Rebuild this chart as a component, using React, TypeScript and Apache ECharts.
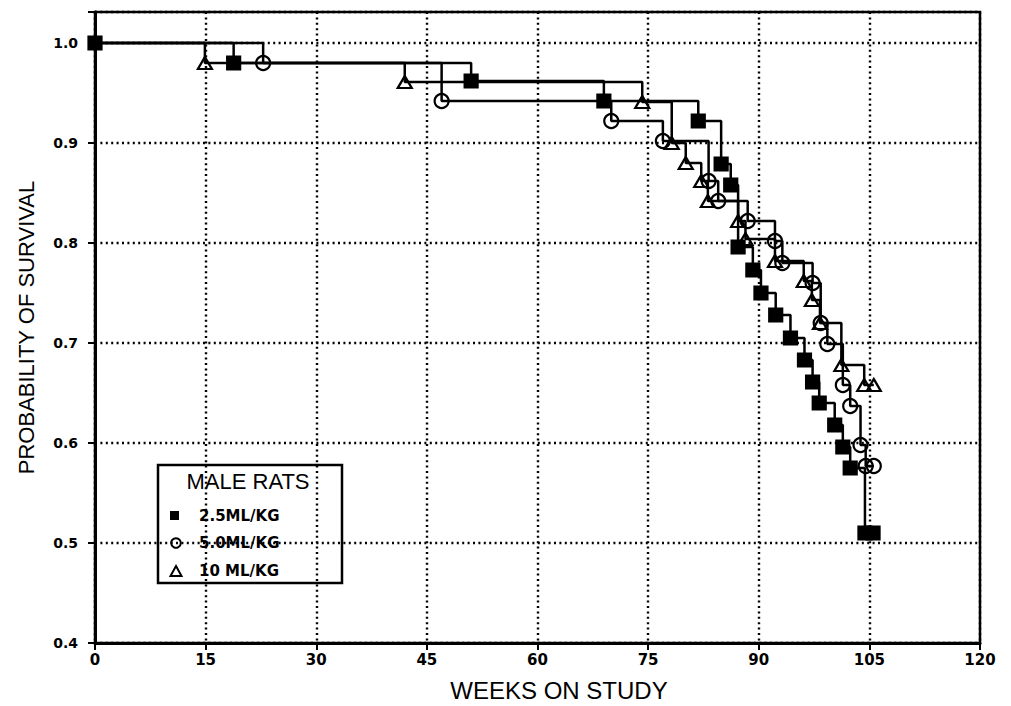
import React, { useEffect, useRef } from "react";
import * as echarts from "echarts";

// ---- data ----
const xTicks = [0, 15, 30, 45, 60, 75, 90, 105, 120];
const yTicks = [0.4, 0.5, 0.6, 0.7, 0.8, 0.9, 1.0];

const lowWeeks = [0, 18.8, 51.0, 69.0, 81.8, 84.9, 86.2, 87.2, 89.2, 90.3, 92.3, 94.3, 96.2, 97.3, 98.2, 100.3, 101.4, 102.4, 104.4, 105.5];
const lowSurv = [1.0, 0.98, 0.962, 0.942, 0.922, 0.879, 0.858, 0.796, 0.773, 0.75, 0.728, 0.705, 0.683, 0.661, 0.64, 0.618, 0.596, 0.575, 0.51, 0.51];

const midWeeks = [0, 22.8, 47.0, 70.0, 77.0, 83.2, 84.5, 88.5, 92.2, 93.2, 97.3, 98.4, 99.3, 101.4, 102.4, 103.8, 104.5, 105.6];
const midSurv = [1.0, 0.98, 0.942, 0.922, 0.902, 0.862, 0.842, 0.822, 0.802, 0.78, 0.76, 0.72, 0.699, 0.658, 0.637, 0.598, 0.577, 0.577];

const highWeeks = [0, 14.9, 42.0, 74.2, 78.2, 80.1, 82.2, 83.1, 87.2, 88.2, 92.2, 96.1, 97.2, 98.3, 101.2, 104.3, 105.6];
const highSurv = [1.0, 0.98, 0.961, 0.941, 0.9, 0.88, 0.862, 0.842, 0.822, 0.804, 0.782, 0.762, 0.743, 0.72, 0.678, 0.658, 0.658];

const xTitle = "WEEKS ON STUDY";
const yTitle = "PROBABILITY OF SURVIVAL";
const legendTitle = "MALE RATS";
const legendLabels = ["2.5ML/KG", "5.0ML/KG", "10 ML/KG"];

const SANS = "'Liberation Sans', Arial, sans-serif";
const BOLD = "'DejaVu Sans', sans-serif";

function makeSeries(name: string, weeks: number[], surv: number[], symbol: string, size: any, fill: string, hideFirst: boolean, z: number) {
  return {
    type: "line",
    name,
    step: "end",
    data: weeks.map((w, i) => (i === 0 && hideFirst ? { value: [w, surv[i]], symbol: "none" } : { value: [w, surv[i]] })),
    symbol,
    symbolSize: size,
    showSymbol: true,
    lineStyle: { color: "#000", width: 2.5 },
    itemStyle: { color: fill, borderColor: "#000", borderWidth: 2.2 },
    z,
  };
}

export default function App() {
  const ref = useRef<HTMLDivElement>(null);
  useEffect(() => {
    if (!ref.current) return;
    const chart = echarts.init(ref.current, undefined, { renderer: "svg" });
    const dotted = { color: "#000", width: 2.4, type: [2, 3.4] as any };
    const lx = 158, ly = 465, lw = 184, lh = 118;
    chart.setOption({
      animation: false,
      backgroundColor: "#fff",
      grid: { left: 95, right: 31, top: 12, bottom: 63, show: true, borderColor: "#000", borderWidth: 2.5, backgroundColor: "transparent" },
      xAxis: {
        type: "value",
        min: xTicks[0],
        max: xTicks[xTicks.length - 1],
        interval: 15,
        axisLine: { show: true, lineStyle: { color: "#000", width: 3 } },
        axisTick: { show: true, length: 7, lineStyle: { color: "#000", width: 2 } },
        axisLabel: { color: "#000", fontFamily: BOLD, fontWeight: "bold", fontSize: 15, margin: 9 },
        splitLine: { show: true, lineStyle: dotted },
      },
      yAxis: {
        type: "value",
        min: yTicks[0],
        max: 1.031,
        interval: 0.1,
        name: yTitle,
        nameLocation: "middle",
        nameGap: 58,
        nameTextStyle: { fontFamily: SANS, fontSize: 22, color: "#000" },
        axisLine: { show: true, lineStyle: { color: "#000", width: 3 } },
        axisTick: { show: true, length: 7, lineStyle: { color: "#000", width: 2 } },
        axisLabel: {
          color: "#000",
          fontFamily: BOLD,
          fontWeight: "bold",
          fontSize: 14,
          margin: 17,
          formatter: (v: number) => (Math.abs(v * 10 - Math.round(v * 10)) < 1e-6 ? v.toFixed(1) : ""),
        },
        splitLine: { show: true, lineStyle: dotted },
      },
      series: [
        makeSeries("10 ML/KG", highWeeks, highSurv, "triangle", [14, 12], "transparent", true, 3),
        makeSeries("5.0ML/KG", midWeeks, midSurv, "circle", 14, "transparent", true, 4),
        makeSeries("2.5ML/KG", lowWeeks, lowSurv, "rect", 13, "#000", false, 5),
      ],
      graphic: [
        { type: "text", x: 559, y: 690, z: 100, style: { text: xTitle, fontFamily: SANS, fontSize: 24, fill: "#000", align: "center", verticalAlign: "middle" } },
        {
          type: "group",
          z: 100,
          children: [
            { type: "rect", shape: { x: lx, y: ly, width: lw, height: lh }, style: { fill: "#fff", stroke: "#000", lineWidth: 2.5 } },
            { type: "text", x: 248, y: 481, style: { text: legendTitle, fontFamily: SANS, fontSize: 22, fill: "#000", align: "center", verticalAlign: "middle" } },
            { type: "rect", shape: { x: 170, y: 511, width: 9, height: 9 }, style: { fill: "#000" } },
            { type: "circle", shape: { cx: 176, cy: 543, r: 4.8 }, style: { fill: "none", stroke: "#000", lineWidth: 2 } },
            { type: "polygon", shape: { points: [[176, 566], [181.5, 576], [170.5, 576]] }, style: { fill: "none", stroke: "#000", lineWidth: 2 } },
            { type: "text", x: 199, y: 516, style: { text: legendLabels[0], fontFamily: BOLD, fontWeight: "bold", fontSize: 15, fill: "#000", verticalAlign: "middle" } },
            { type: "text", x: 199, y: 543, style: { text: legendLabels[1], fontFamily: BOLD, fontWeight: "bold", fontSize: 15, fill: "#000", verticalAlign: "middle" } },
            { type: "text", x: 199, y: 571, style: { text: legendLabels[2], fontFamily: BOLD, fontWeight: "bold", fontSize: 15, fill: "#000", verticalAlign: "middle" } },
          ],
        },
      ],
    });
    return () => chart.dispose();
  }, []);
  return <div ref={ref} style={{ position: "fixed", left: 0, top: 0, width: 1011, height: 706, background: "#fff" }} />;
}
